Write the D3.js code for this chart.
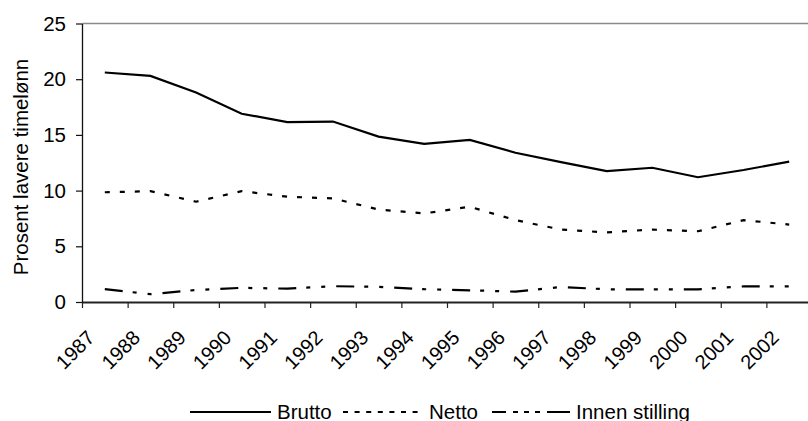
<!DOCTYPE html>
<html><head><meta charset="utf-8">
<script src="https://cdn.jsdelivr.net/npm/d3@7"></script>
<style>
html,body{margin:0;padding:0;background:#fff;}
svg{display:block;font-family:"Liberation Sans",Arial,sans-serif;}
</style></head>
<body>
<svg id="c" width="808" height="421"></svg>
<script>
const years = ["1987","1988","1989","1990","1991","1992","1993","1994","1995","1996","1997","1998","1999","2000","2001","2002"];
const brutto = [20.6,20.3,18.8,16.9,16.15,16.2,14.85,14.2,14.55,13.4,12.55,11.75,12.05,11.2,11.85,12.6];
const netto  = [9.85,9.95,9.0,9.95,9.45,9.3,8.3,7.95,8.55,7.35,6.5,6.25,6.5,6.35,7.35,6.95];
const innen  = [1.15,0.7,1.08,1.27,1.2,1.42,1.36,1.15,1.05,0.93,1.35,1.14,1.14,1.14,1.4,1.4];
const yTicks = [0,5,10,15,20,25];
const seriesNames = ["Brutto","Netto","Innen stilling"];

const svg = d3.select("#c");
const FS = "20.5px";
const mLeft = 82, mTop = 23.5, mBottom = 302, mRight = 812;

const x = d3.scaleLinear().domain([0, years.length]).range([mLeft, mRight]);
const y = d3.scaleLinear().domain([0, 25]).range([mBottom, mTop]);

// top border
svg.append("line").attr("x1", mLeft).attr("x2", 808).attr("y1", y(25)).attr("y2", y(25))
  .attr("stroke", "#8a8a8a").attr("stroke-width", 1.5);

// y axis
const ya = svg.append("g").attr("transform", `translate(${mLeft},0)`)
  .call(d3.axisLeft(y).tickValues(yTicks).tickSize(6).tickSizeOuter(0).tickPadding(10).tickFormat(d3.format("d")));
ya.select(".domain").attr("stroke", "#111").attr("stroke-width", 1.3);
ya.selectAll(".tick line").attr("stroke", "#111").attr("stroke-width", 1.2);
ya.selectAll(".tick text").attr("font-size", FS).attr("font-family", "Liberation Sans, Arial, sans-serif").attr("fill", "#000");

// x axis (ticks at category boundaries)
const xa = svg.append("g").attr("transform", `translate(0,${mBottom})`)
  .call(d3.axisBottom(x).tickValues(d3.range(0, years.length + 1)).tickSize(6).tickSizeOuter(0).tickFormat(""));
xa.select(".domain").attr("stroke", "#222").attr("stroke-width", 1.8);
xa.selectAll(".tick line").attr("stroke", "#222").attr("stroke-width", 1.2);

// x labels
svg.append("g").selectAll("text").data(years).join("text")
  .attr("transform", (d, i) => `translate(${x(i + 0.5) - 9},${mBottom + 37}) rotate(-45)`)
  .attr("text-anchor", "end").attr("font-size", "20px").attr("fill", "#000").text(d => d);

// y label
svg.append("text").attr("transform", `translate(28,167) rotate(-90)`)
  .attr("text-anchor", "middle").attr("font-size", FS).attr("fill", "#000")
  .text("Prosent lavere timelønn");

// lines
const line = d3.line().x((d, i) => x(i + 0.5)).y(d => y(d));
const styles = [
  {data: brutto, dash: null, legDash: null},
  {data: netto, dash: "5,10", legDash: "5,6.6"},
  {data: innen, dash: "18,10,4,11,4,11", legDash: "14,7,5,6,5,6,5,7,23"}
];
styles.forEach(s => {
  svg.append("path").datum(s.data).attr("d", line)
    .attr("fill", "none").attr("stroke", "#000").attr("stroke-width", 2.2)
    .attr("stroke-dasharray", s.dash);
});

// legend
const legX = [190, 343, 492];
const legW = [81, 80, 78];
const legY = 412;
seriesNames.forEach((n, i) => {
  svg.append("line").attr("x1", legX[i]).attr("x2", legX[i] + legW[i]).attr("y1", legY).attr("y2", legY)
    .attr("stroke", "#000").attr("stroke-width", 2.2).attr("stroke-dasharray", styles[i].legDash);
  svg.append("text").attr("x", legX[i] + legW[i] + 6).attr("y", legY + 6.5)
    .attr("font-size", FS).attr("fill", "#000").text(n);
});
</script>
</body></html>
